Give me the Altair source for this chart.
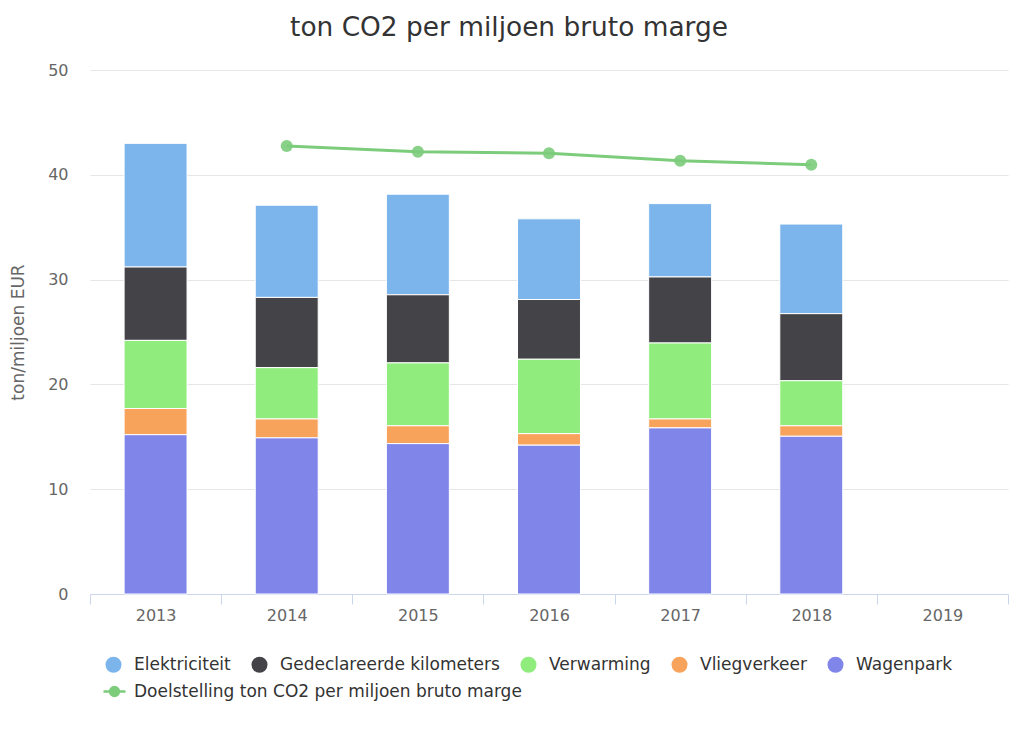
import altair as alt
import pandas as pd

years = ["2013", "2014", "2015", "2016", "2017", "2018", "2019"]
bar_years = ["2013", "2014", "2015", "2016", "2017", "2018"]
series = ["Elektriciteit", "Gedeclareerde kilometers", "Verwarming", "Vliegverkeer", "Wagenpark"]
colors = ["#7cb5ec", "#434348", "#90ed7d", "#f7a35c", "#8085e9"]
stack_order = [4, 3, 2, 1, 0]

elektriciteit = [11.8, 8.8, 9.6, 7.7, 7.0, 8.55]
gedeclareerde_km = [7.0, 6.7, 6.5, 5.7, 6.3, 6.4]
verwarming = [6.5, 4.9, 6.0, 7.1, 7.25, 4.3]
vliegverkeer = [2.5, 1.8, 1.7, 1.1, 0.85, 1.0]
wagenpark = [15.2, 14.9, 14.35, 14.2, 15.85, 15.05]

doel_name = "Doelstelling ton CO2 per miljoen bruto marge"
doel_years = ["2014", "2015", "2016", "2017", "2018"]
doelstelling = [42.75, 42.2, 42.05, 41.35, 40.95]
doel_color = "#7ccc7c"

values = [elektriciteit, gedeclareerde_km, verwarming, vliegverkeer, wagenpark]
rows = []
for i, y in enumerate(bar_years):
    for s, vals, o in zip(series, values, stack_order):
        rows.append({"jaar": y, "serie": s, "waarde": vals[i], "volgorde": o})
bars_df = pd.DataFrame(rows)
line_df = pd.DataFrame({"jaar": doel_years, "waarde": doelstelling, "doel": doel_name})

FONT = "DejaVu Sans"

x_scale = alt.Scale(domain=years, paddingInner=0, paddingOuter=0)
y_scale = alt.Scale(domain=[0, 50])

x_axis = alt.Axis(
    title=None, labelAngle=0, labelFontSize=16, labelColor="#666666", labelFont=FONT,
    domainColor="#ccd6eb", domainWidth=1, tickColor="#ccd6eb", tickSize=10,
    tickBand="extent", labelPadding=3, grid=False,
)
y_axis = alt.Axis(
    title="ton/miljoen EUR", values=[0, 10, 20, 30, 40, 50], labelFontSize=16,
    labelColor="#666666", labelFont=FONT, domain=False, ticks=False, tickSize=0,
    labelPadding=22, gridColor="#e6e6e6", gridWidth=1,
    titleFontSize=17, titleFont=FONT, titleFontWeight="normal", titleColor="#666666",
    titleAngle=270, titleX=-72, titleY=262, titleAlign="center", titleBaseline="middle",
)

bars = alt.Chart(bars_df).mark_bar(
    stroke="white", strokeWidth=1, width=alt.RelativeBandSize(0.48)
).encode(
    x=alt.X("jaar:N", scale=x_scale, axis=x_axis),
    y=alt.Y("waarde:Q", scale=y_scale, axis=y_axis, stack="zero"),
    color=alt.Color(
        "serie:N",
        scale=alt.Scale(domain=series, range=colors),
        legend=alt.Legend(
            title=None, orient="none", legendX=15, legendY=586, direction="horizontal",
            columns=5, symbolType="circle", symbolSize=256, symbolStrokeWidth=0,
            labelFontSize=17, labelColor="#333333", labelFont=FONT, labelLimit=400,
            columnPadding=20, labelOffset=12, padding=0,
        ),
    ),
    order=alt.Order("volgorde:Q", sort="ascending"),
)

line_symbol = "M-1,0L1,0M-0.4,0a0.4,0.4 0 1,0 0.8,0a0.4,0.4 0 1,0 -0.8,0"

line = alt.Chart(line_df).mark_line(strokeWidth=3).encode(
    x=alt.X("jaar:N", scale=x_scale),
    y=alt.Y("waarde:Q", scale=y_scale),
    stroke=alt.Stroke(
        "doel:N",
        scale=alt.Scale(domain=[doel_name], range=[doel_color]),
        legend=alt.Legend(
            title=None, orient="none", legendX=12, legendY=609,
            symbolType=line_symbol, symbolSize=484, symbolStrokeWidth=2.5,
            symbolFillColor=doel_color, labelOffset=7, labelFontSize=17,
            labelColor="#333333", labelFont=FONT, labelLimit=600, padding=0,
        ),
    ),
)

points = alt.Chart(line_df).mark_circle(size=144, color=doel_color, opacity=0.9).encode(
    x=alt.X("jaar:N", scale=x_scale),
    y=alt.Y("waarde:Q", scale=y_scale),
)

chart = alt.layer(bars, line, points).properties(
    width=918,
    height=524,
    autosize=alt.AutoSizeParams(type="none"),
    padding={"left": 82, "top": 62, "right": 7, "bottom": 129},
    title=alt.TitleParams(
        "ton CO2 per miljoen bruto marge", fontSize=26.4, font=FONT, fontWeight="normal",
        color="#333333", anchor="middle", dx=-40, offset=21,
    ),
).configure(
    background="white",
    view=alt.ViewConfig(stroke="transparent", strokeWidth=0),
)

chart.save("out.html", embed_options={"renderer": "svg", "actions": False})
